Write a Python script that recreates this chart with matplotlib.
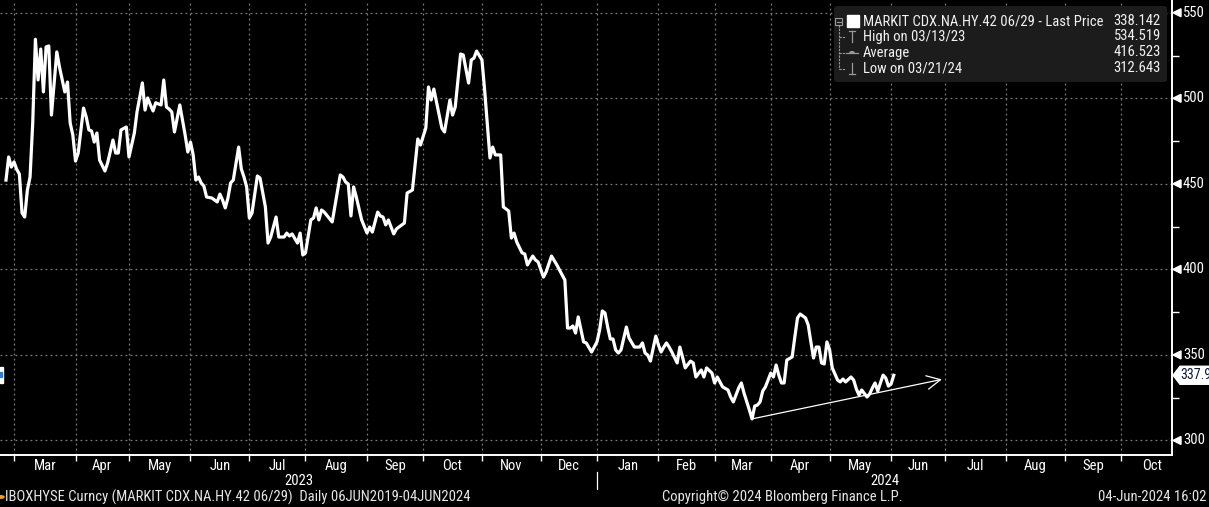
import numpy as np
import matplotlib
matplotlib.use('Agg')
from matplotlib import pyplot as plt
from matplotlib import font_manager
from matplotlib.patches import Polygon, Rectangle, FancyBboxPatch, Circle
from matplotlib.transforms import blended_transform_factory

# MARKIT CDX.NA.HY.42 06/29 - daily last price
dates = [
    '2023-02-24', '2023-02-27', '2023-02-28', '2023-03-01', '2023-03-02', '2023-03-03', '2023-03-06', '2023-03-07',
    '2023-03-08', '2023-03-09', '2023-03-10', '2023-03-13', '2023-03-14', '2023-03-15', '2023-03-16', '2023-03-17',
    '2023-03-20', '2023-03-21', '2023-03-23', '2023-03-24', '2023-03-28', '2023-03-29', '2023-03-30', '2023-03-31',
    '2023-04-03', '2023-04-04', '2023-04-06', '2023-04-07', '2023-04-10', '2023-04-11', '2023-04-12', '2023-04-13',
    '2023-04-14', '2023-04-18', '2023-04-19', '2023-04-21', '2023-04-24', '2023-04-25', '2023-04-26', '2023-04-28',
    '2023-05-01', '2023-05-03', '2023-05-04', '2023-05-08', '2023-05-09', '2023-05-10', '2023-05-11', '2023-05-12',
    '2023-05-15', '2023-05-16', '2023-05-17', '2023-05-18', '2023-05-19', '2023-05-22', '2023-05-23', '2023-05-24',
    '2023-05-26', '2023-05-30', '2023-05-31', '2023-06-01', '2023-06-02', '2023-06-05', '2023-06-06', '2023-06-07',
    '2023-06-08', '2023-06-09', '2023-06-13', '2023-06-15', '2023-06-16', '2023-06-19', '2023-06-20', '2023-06-21',
    '2023-06-22', '2023-06-23', '2023-06-27', '2023-06-28', '2023-06-29', '2023-06-30', '2023-07-03', '2023-07-04',
    '2023-07-06', '2023-07-07', '2023-07-11', '2023-07-12', '2023-07-13', '2023-07-17', '2023-07-18', '2023-07-20',
    '2023-07-21', '2023-07-24', '2023-07-25', '2023-07-27', '2023-07-28', '2023-07-31', '2023-08-01', '2023-08-03',
    '2023-08-04', '2023-08-07', '2023-08-08', '2023-08-09', '2023-08-10', '2023-08-15', '2023-08-18', '2023-08-21',
    '2023-08-22', '2023-08-23', '2023-08-24', '2023-08-25', '2023-08-28', '2023-08-30', '2023-09-01', '2023-09-04',
    '2023-09-05', '2023-09-07', '2023-09-08', '2023-09-11', '2023-09-12', '2023-09-13', '2023-09-15', '2023-09-18',
    '2023-09-19', '2023-09-21', '2023-09-22', '2023-09-26', '2023-09-28', '2023-09-29', '2023-10-03', '2023-10-04',
    '2023-10-05', '2023-10-06', '2023-10-11', '2023-10-12', '2023-10-16', '2023-10-17', '2023-10-18', '2023-10-20',
    '2023-10-23', '2023-10-25', '2023-10-26', '2023-10-27', '2023-10-30', '2023-11-01', '2023-11-02', '2023-11-06',
    '2023-11-07', '2023-11-08', '2023-11-10', '2023-11-13', '2023-11-15', '2023-11-16', '2023-11-17', '2023-11-20',
    '2023-11-22', '2023-11-23', '2023-11-24', '2023-11-28', '2023-11-29', '2023-11-30', '2023-12-04', '2023-12-05',
    '2023-12-07', '2023-12-11', '2023-12-12', '2023-12-14', '2023-12-15', '2023-12-18', '2023-12-19', '2023-12-20',
    '2023-12-21', '2023-12-25', '2023-12-26', '2023-12-28', '2023-12-29', '2024-01-01', '2024-01-02', '2024-01-03',
    '2024-01-04', '2024-01-05', '2024-01-08', '2024-01-09', '2024-01-10', '2024-01-11', '2024-01-12', '2024-01-16',
    '2024-01-17', '2024-01-19', '2024-01-23', '2024-01-24', '2024-01-25', '2024-01-26', '2024-01-29', '2024-01-31',
    '2024-02-01', '2024-02-02', '2024-02-05', '2024-02-06', '2024-02-07', '2024-02-08', '2024-02-12', '2024-02-13',
    '2024-02-14', '2024-02-15', '2024-02-19', '2024-02-20', '2024-02-21', '2024-02-23', '2024-02-26', '2024-02-27',
    '2024-02-29', '2024-03-01', '2024-03-04', '2024-03-06', '2024-03-08', '2024-03-11', '2024-03-12', '2024-03-14',
    '2024-03-15', '2024-03-18', '2024-03-20', '2024-03-21', '2024-03-22', '2024-03-25', '2024-03-26', '2024-03-27',
    '2024-03-28', '2024-03-29', '2024-04-01', '2024-04-02', '2024-04-03', '2024-04-04', '2024-04-05', '2024-04-08',
    '2024-04-09', '2024-04-11', '2024-04-12', '2024-04-15', '2024-04-16', '2024-04-18', '2024-04-19', '2024-04-22',
    '2024-04-23', '2024-04-24', '2024-04-25', '2024-04-26', '2024-04-29', '2024-04-30', '2024-05-01', '2024-05-02',
    '2024-05-06', '2024-05-07', '2024-05-08', '2024-05-09', '2024-05-13', '2024-05-14', '2024-05-15', '2024-05-16',
    '2024-05-17', '2024-05-21', '2024-05-22', '2024-05-23', '2024-05-24', '2024-05-27', '2024-05-28', '2024-05-29',
    '2024-05-30', '2024-05-31', '2024-06-03', '2024-06-04',
]
values = [
    452.2, 465.7, 459.8, 462.8, 458.5, 455.7, 433.0, 430.6,
    446.4, 454.0, 485.6, 534.5, 510.7, 528.8, 503.7, 530.0,
    530.6, 490.2, 527.1, 518.3, 503.7, 509.5, 485.6, 478.5,
    463.3, 468.0, 494.3, 489.1, 481.5, 480.9, 474.4, 479.7,
    463.9, 457.5, 462.2, 475.6, 468.0, 468.0, 481.5, 483.2,
    465.7, 479.7, 492.0, 509.0, 493.1, 500.2, 496.1, 492.6,
    497.4, 496.7, 496.1, 510.7, 494.9, 493.7, 492.0, 480.3,
    496.1, 478.5, 468.6, 474.4, 466.9, 452.2, 454.0, 450.5,
    448.7, 442.3, 441.7, 439.4, 444.0, 440.5, 435.9, 441.7,
    450.5, 452.2, 471.5, 458.7, 454.0, 448.2, 430.0, 432.9,
    454.6, 453.4, 436.5, 415.4, 418.9, 430.6, 418.9, 418.9,
    421.2, 419.5, 420.7, 415.4, 421.2, 408.4, 409.6, 428.9,
    430.0, 435.9, 428.9, 434.7, 433.5, 427.7, 455.2, 454.0,
    451.1, 449.9, 431.2, 448.2, 442.3, 428.9, 421.3, 424.8,
    421.8, 433.5, 431.2, 430.6, 426.0, 428.9, 420.7, 423.6,
    424.8, 427.1, 444.6, 446.4, 476.2, 472.7, 482.6, 506.6,
    499.0, 505.4, 482.6, 480.3, 499.0, 490.2, 494.9, 525.9,
    525.3, 508.9, 522.4, 523.5, 527.6, 522.4, 504.8, 465.1,
    471.5, 466.9, 466.9, 436.5, 434.1, 418.3, 421.2, 416.0,
    409.6, 409.0, 402.6, 407.8, 405.5, 404.3, 395.5, 398.5,
    407.8, 402.6, 399.6, 393.8, 365.7, 365.7, 366.9, 362.8,
    372.2, 357.6, 357.0, 351.7, 354.6, 357.6, 364.5, 375.7,
    374.5, 366.3, 359.3, 359.3, 352.9, 351.1, 352.9, 366.3,
    359.9, 354.6, 354.6, 357.0, 351.1, 349.9, 346.4, 361.0,
    355.8, 351.7, 354.6, 357.0, 354.6, 351.7, 345.3, 354.6,
    348.8, 342.4, 346.4, 345.3, 337.1, 341.2, 337.1, 342.4,
    339.4, 333.6, 337.1, 331.3, 329.5, 325.4, 322.5, 330.7,
    333.6, 327.7, 317.8, 312.6, 320.1, 320.7, 322.5, 328.9,
    331.3, 335.3, 339.4, 337.1, 344.1, 338.2, 333.6, 333.6,
    347.0, 348.8, 360.5, 371.6, 373.9, 371.6, 367.5, 357.6,
    348.2, 354.6, 354.6, 345.3, 344.7, 357.6, 353.0, 342.4,
    335.3, 334.2, 335.9, 334.2, 337.1, 335.3, 330.1, 326.6,
    329.5, 325.4, 327.2, 330.7, 333.6, 328.9, 333.6, 338.2,
    336.5, 331.8, 333.0, 338.1,
]

month_starts = ['2023-03-01', '2023-04-01', '2023-05-01', '2023-06-01', '2023-07-01', '2023-08-01',
                '2023-09-01', '2023-10-01', '2023-11-01', '2023-12-01', '2024-01-01', '2024-02-01',
                '2024-03-01', '2024-04-01', '2024-05-01', '2024-06-01', '2024-07-01', '2024-08-01',
                '2024-09-01', '2024-10-01', '2024-11-01']
month_labels = ['Mar', 'Apr', 'May', 'Jun', 'Jul', 'Aug', 'Sep', 'Oct', 'Nov', 'Dec',
                'Jan', 'Feb', 'Mar', 'Apr', 'May', 'Jun', 'Jul', 'Aug', 'Sep', 'Oct']
year_labels = ['2023', '2024']
year_start = '2024-01-01'
yticks = [300, 350, 400, 450, 500, 550]

legend_rows = ['MARKIT CDX.NA.HY.42 06/29 - Last Price', 'High on 03/13/23', 'Average', 'Low on 03/21/24']
legend_vals = ['338.142', '534.519', '416.523', '312.643']
last_tag = '337.9'
last_value = 338.1
trend_dates = ['2024-03-21', '2024-06-28']
trend_values = [312.6, 335.7]

base = '2023-03-01'


def pos(d):
    return np.busday_count(base, np.array(d, dtype='datetime64[D]'))


# narrow font if one is installed, like the terminal's
fonts = font_manager.fontManager.ttflist
names = {f.name for f in fonts}
font, fs = 'Liberation Sans', 9.5
for cand in ['Liberation Sans Narrow', 'Roboto Condensed', 'Open Sans Condensed', 'Noto Sans Condensed']:
    if cand in names:
        font, fs = cand, 10.5
        break
else:
    for cand in ['DejaVu Sans', 'Noto Sans', 'Open Sans', 'Roboto']:
        if any(f.name == cand and f.stretch == 'condensed' and f.weight in (400, 'normal') for f in fonts):
            font, fs = cand, 10.0
            plt.rcParams['font.stretch'] = 'condensed'
            break
plt.rcParams['font.family'] = [font, 'DejaVu Sans']

W, H = 1209, 507


def fx(px):
    return px / W


def fy(py):
    return 1 - py / H


fig = plt.figure(figsize=(W / 100, H / 100), dpi=100, facecolor='black')
ax = fig.add_axes([0, fy(455), fx(1172), 455 / H])
ax.set_facecolor('black')

x = pos(dates)
ax.plot(x, values, color='white', lw=2.3, solid_joinstyle='round', zorder=3)

ax.set_xlim(-5.24, 433.05)
ax.set_ylim(291.5, 557.45)

# trend arrow
tx = pos(trend_dates)
ax.annotate('', xy=(tx[1], trend_values[1]), xytext=(tx[0], trend_values[0]),
            arrowprops=dict(arrowstyle='->,head_length=0.7,head_width=0.35', color='white',
                            lw=0.9, shrinkA=0, shrinkB=0, mutation_scale=14), zorder=4)

# axes / grid
ms = pos(month_starts)
ax.set_xticks(ms[:-1])
mids = (ms[:-1] + ms[1:]) / 2
ax.set_xticks(mids, minor=True)
ax.set_xticklabels([], minor=False)
ax.set_xticklabels(month_labels, minor=True)
ax.tick_params(axis='x', which='major', direction='out', length=4, color='white', width=1)
ax.tick_params(axis='x', which='minor', length=0, pad=3, labelcolor='white', labelsize=fs)

ax.yaxis.tick_right()
ax.set_yticks(yticks)
ax.set_yticklabels([])
ax.set_yticks(np.arange(325, 551, 50), minor=True)
ax.tick_params(axis='y', which='major', length=0)
ax.tick_params(axis='y', which='minor', direction='out', length=5, color='white', width=1)

ax.grid(True, which='major', color='#7a7a7a', linestyle=(0, (1.5, 2.5)), lw=0.9)
for s in ['left', 'top']:
    ax.spines[s].set_visible(False)
for s in ['right', 'bottom']:
    ax.spines[s].set_color('white')
    ax.spines[s].set_linewidth(1.4)

ytr = blended_transform_factory(ax.transAxes, ax.transData)
dx = 1 / fx(1172) / W  # one pixel in axes x units
dy = (557.45 - 291.5) / 455  # one pixel in data y units
for v in yticks:
    ax.add_patch(Polygon([[1 + 1 * dx, v], [1 + 9 * dx, v + 4 * dy], [1 + 9 * dx, v - 4 * dy]],
                         closed=True, color='white', transform=ytr, clip_on=False))
    ax.text(1 + 11 * dx, v, str(v), transform=ytr, ha='left', va='center',
            color='white', fontsize=fs, clip_on=False)

# last price tag
ax.add_patch(Polygon([[1 + 1 * dx, last_value], [1 + 8 * dx, last_value + 9 * dy],
                      [1 + 40 * dx, last_value + 9 * dy], [1 + 40 * dx, last_value - 9 * dy],
                      [1 + 8 * dx, last_value - 9 * dy]],
                     closed=True, color='white', transform=ytr, clip_on=False))
ax.text(1 + 8 * dx, last_value, last_tag, transform=ytr, ha='left', va='center',
        color='#0b1a3c', fontsize=fs - 0.5, clip_on=False)
fig.add_artist(Rectangle((0, fy(383)), fx(3), 16 / H, color='white'))
fig.add_artist(Rectangle((0, fy(377)), fx(1.5), 5 / H, color='#2a7fd4'))

# year labels and separator
xfig = blended_transform_factory(ax.transData, fig.transFigure)
ys = pos(year_start)
ax.text((ax.get_xlim()[0] + ys) / 2, fy(481), year_labels[0], transform=xfig, ha='center',
        va='center', color='white', fontsize=fs)
ax.text((ax.get_xlim()[1] + ys) / 2, fy(481), year_labels[1], transform=xfig, ha='center',
        va='center', color='white', fontsize=fs)
ax.plot([ys, ys], [fy(472), fy(489)], transform=xfig, color='white', lw=0.9, clip_on=False)

# legend box
fig.add_artist(FancyBboxPatch((fx(834), fy(82)), fx(333), 76 / H,
                              boxstyle='round,pad=0,rounding_size=0.004',
                              facecolor='#1c1c1c', edgecolor='none'))
row_y = [21, 36.5, 52.5, 68.5]
for label, val, yy in zip(legend_rows, legend_vals, row_y):
    fig.text(fx(863), fy(yy), label, ha='left', va='center', color='#f2f2f2', fontsize=fs)
    fig.text(fx(1161), fy(yy), val, ha='right', va='center', color='#f2f2f2', fontsize=fs)
gray = '#9a9a9a'
fig.add_artist(Rectangle((fx(835), fy(25)), fx(7), 7 / H, fill=False, edgecolor=gray, lw=0.8))
fig.add_artist(plt.Line2D([fx(836.5), fx(840.5)], [fy(21.5), fy(21.5)], color=gray, lw=0.8))
fig.add_artist(Rectangle((fx(847), fy(27)), fx(12), 12 / H, color='white'))
fig.add_artist(plt.Line2D([fx(838.5), fx(838.5)], [fy(25), fy(68.5)], color=gray, lw=0.8,
                          linestyle=(0, (2, 1))))
for yy in row_y[1:]:
    fig.add_artist(plt.Line2D([fx(838.5), fx(845)], [fy(yy), fy(yy)], color=gray, lw=0.8,
                              linestyle=(0, (2, 1))))
fig.add_artist(plt.Line2D([fx(849), fx(855)], [fy(30.5), fy(30.5)], color=gray, lw=0.9))
fig.add_artist(plt.Line2D([fx(852), fx(852)], [fy(30.5), fy(42)], color=gray, lw=0.9))
fig.add_artist(plt.Line2D([fx(846), fx(858)], [fy(52.5), fy(52.5)], color=gray, lw=0.9))
fig.add_artist(Circle((fx(852), fy(52.5)), 2 / W, color=gray))
fig.add_artist(plt.Line2D([fx(852), fx(852)], [fy(63), fy(74)], color=gray, lw=0.9))
fig.add_artist(plt.Line2D([fx(849), fx(855)], [fy(74), fy(74)], color=gray, lw=0.9))

# footer
fig.add_artist(Circle((fx(1), fy(497)), 3 / W, color='#f0a020'))
fig.text(fx(5), fy(497), 'IBOXHYSE Curncy (MARKIT CDX.NA.HY.42 06/29)  Daily 06JUN2019-04JUN2024',
         ha='left', va='center', color='#e6e6e6', fontsize=fs)
fig.text(fx(782), fy(497), 'Copyright\u00a9 2024 Bloomberg Finance L.P.',
         ha='center', va='center', color='#e6e6e6', fontsize=fs)
fig.text(fx(1207), fy(497), '04-Jun-2024 16:02', ha='right', va='center', color='#e6e6e6', fontsize=fs)

plt.savefig('out.png', dpi=100, facecolor='black')
